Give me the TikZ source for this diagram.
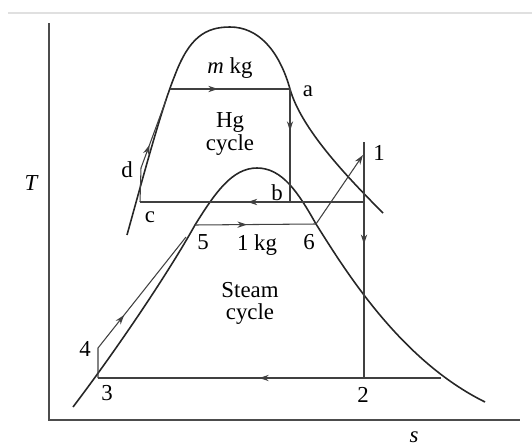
\documentclass[tikz,border=0pt]{standalone}
\usepackage{fontspec}
\setmainfont{Liberation Serif}
\usetikzlibrary{arrows.meta, decorations.markings}

\tikzset{
  dome/.style={line width=0.9pt, black!85},
  proc/.style={line width=0.6pt, black!75},
  axis/.style={line width=0.8pt, black!70},
  lbl/.style={inner sep=1pt, font=\fontsize{13}{15}\selectfont},
  midarrow/.style={postaction={decorate, decoration={markings,
      mark=at position #1 with {\arrow{Stealth[length=5.5pt,width=3.6pt]}}}}},
}

\begin{document}
\begin{tikzpicture}[x=0.02cm, y=-0.02cm]
    \useasboundingbox (0,0) rectangle (532,447);
    \draw[black!12, line width=0.6pt] (8,13) -- (532,13);

    % axes
    \coordinate (o) at (49,420);
    \coordinate (ytop) at (49,23);
    \coordinate (xend) at (520,420);
    \draw[axis] (ytop) -- (o) -- (xend);
    \node[lbl] (tlbl) at (31,183) {\itshape T};
    \node[lbl] (slbl) at (414,437) {\itshape s};

    % state points
    \coordinate (a) at (290,89);
    \coordinate (b) at (290,202);
    \coordinate (c) at (140,202);
    \coordinate (d) at (141,168);
    \coordinate (dm) at (166,100);
    \coordinate (f) at (170,89);
    \coordinate (p1) at (363,155);
    \coordinate (v1) at (364,142);
    \coordinate (v2) at (364,202);
    \coordinate (p2) at (364,378);
    \coordinate (p3) at (98,378);
    \coordinate (p3r) at (441,378);
    \coordinate (p4) at (98,348);
    \coordinate (p4m) at (186,237);
    \coordinate (p5) at (195,225);
    \coordinate (p6) at (316,224);

    % saturation domes
    \draw[dome] (127,235) .. controls (145,170) and (162,107) .. (175,75)
        .. controls (189,38) and (205,27) .. (230,27)
        .. controls (258,27) and (279,50) .. (a)
        .. controls (301,128) and (345,175) .. (383,213);
    \draw[dome] (73,407) .. controls (120,345) and (170,270) .. (p5)
        .. controls (215,193) and (232,168) .. (257,168)
        .. controls (282,168) and (298,192) .. (p6)
        .. controls (345,270) and (400,360) .. (485,402);

    % mercury cycle
    \draw[proc, midarrow=0.4] (f) -- (a);
    \draw[proc, midarrow=0.37] (a) -- (b);
    \draw[proc, midarrow=0.52] (v2) -- (c);
    \draw[proc, midarrow=0.55] (c) -- (d) -- (dm);

    % steam cycle
    \draw[proc, midarrow=0.43] (p5) -- (p6);
    \draw[proc, -{Stealth[length=5.5pt,width=3.6pt]}] (p6) -- (p1);
    \draw[proc] (v1) -- (v2);
    \draw[proc, midarrow=0.24] (v2) -- (p2);
    \draw[proc, midarrow=0.53] (p3r) -- (p3);
    \draw[proc, midarrow=0.42] (p3) -- (p4) -- (p4m);

    % labels
    \node[lbl] (mkg) at (230,68) {\itshape m\upshape\ kg};
    \node[lbl] (la) at (308,91) {a};
    \node[lbl] (hg) at (230,122) {Hg};
    \node[lbl] (hgc) at (230,145) {cycle};
    \node[lbl] (ld) at (127,170) {d};
    \node[lbl] (lc) at (150,217) {c};
    \node[lbl] (lb) at (277,193) {b};
    \node[lbl] (l1) at (379,153) {1};
    \node[lbl] (l5) at (203,242) {5};
    \node[lbl] (onekg) at (257,245) {1 kg};
    \node[lbl] (l6) at (309,242) {6};
    \node[lbl] (stm) at (250,290) {Steam};
    \node[lbl] (stmc) at (250,314) {cycle};
    \node[lbl] (l4) at (85,349) {4};
    \node[lbl] (l3) at (107,393) {3};
    \node[lbl] (l2) at (363,395) {2};
\end{tikzpicture}
\end{document}
